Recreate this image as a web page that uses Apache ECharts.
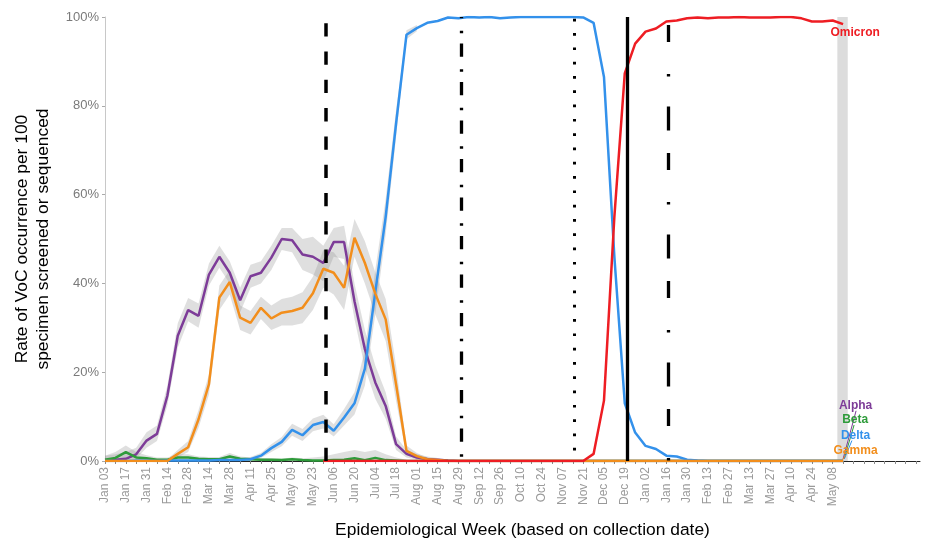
<!DOCTYPE html>
<html><head><meta charset="utf-8">
<script src="https://cdn.jsdelivr.net/npm/echarts@6/dist/echarts.min.js"></script>
<style>html,body{margin:0;padding:0;background:#fff}#c{width:925px;height:544px}</style>
</head><body><div id="c"></div>
<script>
// Weekly categories (epidemiological weeks, 2021-01-03 .. 2022-05-15)
const weekLabels = ["Jan 03","Jan 10","Jan 17","Jan 24","Jan 31","Feb 07","Feb 14","Feb 21","Feb 28","Mar 07",
 "Mar 14","Mar 21","Mar 28","Apr 04","Apr 11","Apr 18","Apr 25","May 02","May 09","May 16",
 "May 23","May 30","Jun 06","Jun 13","Jun 20","Jun 27","Jul 04","Jul 11","Jul 18","Jul 25",
 "Aug 01","Aug 08","Aug 15","Aug 22","Aug 29","Sep 05","Sep 12","Sep 19","Sep 26","Oct 03",
 "Oct 10","Oct 17","Oct 24","Oct 31","Nov 07","Nov 14","Nov 21","Nov 28","Dec 05","Dec 12",
 "Dec 19","Dec 26","Jan 02","Jan 09","Jan 16","Jan 23","Jan 30","Feb 06","Feb 13","Feb 20",
 "Feb 27","Mar 06","Mar 13","Mar 20","Mar 27","Apr 03","Apr 10","Apr 17","Apr 24","May 01",
 "May 08","May 15"];

const yTicks = [0, 20, 40, 60, 80, 100];

const alpha = [0.2,0.3,0.5,1.5,4.6,6.1,14.7,28.2,34,32.7,
 42,46,42.4,36.2,41.6,42.4,45.8,50,49.7,46.5,
 46,44.6,49.3,49.3,36,25.2,17.7,12.4,3.8,1.6,
 0.8,0.45,0.3,0.1,0,0,0,0,0,0,
 0,0,0,0,0,0,0,0,0,0,
 0,0,0,0,0,0,0,0,0,0,
 0,0,0,0,0,0,0,0,0,0,
 0,0];
const beta = [0.3,0.7,2.0,0.8,0.6,0.3,0.3,0.8,0.8,0.5,
 0.4,0.4,1.0,0.5,0.4,0.3,0.3,0.2,0.4,0.2,
 0.1,0.1,0.2,0.3,0.6,0.2,0.7,0.2,0.1,0,
 0,0,0,0,0,0,0,0,0,0,
 0,0,0,0,0,0,0,0,0,0,
 0,0,0,0,0,0,0,0,0,0,
 0,0,0,0,0,0,0,0,0,0,
 0,0];
const delta = [0,0,0,0.1,0.1,0,0.1,0.1,0.1,0.1,
 0.1,0.2,0.2,0.2,0.4,1.2,2.9,4.3,7.0,5.8,
 8.1,8.8,6.8,9.8,13.0,20.8,38,55,76,96,
 97.5,98.7,99.1,99.9,99.7,100,99.9,100,99.7,99.9,
 100,100,100,100,100,100,99.9,98.7,86.5,46,
 13,6.4,3.4,2.7,1.2,1.0,0.3,0.1,0,0,
 0,0,0,0,0,0,0,0,0,0,
 0,0];
const gamma = [0,0,0,0,0,0,0,1.6,3.1,9.4,
 17.3,36.8,40.3,32.3,31.1,34.5,32.1,33.4,33.8,34.5,
 37.8,43.3,42.4,39,50.3,44.6,37.7,31.9,17.3,2.3,
 1.1,0.4,0.2,0,0,0,0,0,0,0,
 0,0,0,0,0,0,0,0,0,0,
 0,0,0,0,0,0,0,0,0,0,
 0,0,0,0,0,0,0,0,0,0,
 0,0];
const omicron = [null,null,null,null,null,null,null,null,null,null,
 null,null,null,null,null,null,null,null,null,null,
 null,0,0,0,0,0,0,0,0,0,
 0,0,0,0,0,0,0,0,0,0,
 0,0,0,0,0,0,0,1.6,13.6,55,
 87.3,94,96.7,97.4,99,99.2,99.7,99.9,99.7,99.9,
 99.9,100,99.9,99.9,99.9,100,100,99.7,99.0,99.0,
 99.2,98.4];

// Confidence ribbons (lower / upper), starting at the given week index
const alphaBandStart = 0;
const alphaLow  = [0,0,0,0.5,3,4.5,12.5,25.5,31.5,30,39.5,43.5,40,33.5,39,40,43,47.5,47,43,42,40.5,46,45.5,32,21,14,9.5,2.5,0.8,0.3,0.1,0,0];
const alphaHigh = [1.2,1.5,2,3,6.5,8,17,31,36.7,35.5,44.5,48.5,45,39,44.2,45,48.5,52.5,52.5,50,50.5,48.5,52.5,53,40,29.5,21.5,15.5,5.5,2.5,1.5,1,0.7,0.3];
const gammaBandStart = 6;
const gammaLow  = [0,0.8,2,7.5,15,34,37.5,29.5,28.5,32,29.5,30.5,30.5,31,34,39,37.5,34,46,40,33,27,13.5,1.3,0.5,0.1,0];
const gammaHigh = [0.4,2.5,4.5,11.5,19.5,39.5,43,35,33.8,37,35,36.5,37,38,41.5,47.5,47,44,54.5,49.5,42.5,36.5,21.5,3.5,1.8,0.8,0.4];
const deltaBandStart = 12;
const deltaLow  = [0,0,0.1,0.7,2,3.3,5.7,4.5,6.7,7.3,5.5,8,10.5,17,33,51,73,95,96.8];
const deltaHigh = [0.5,0.6,0.9,1.8,3.8,5.4,8.4,7.2,9.6,10.4,8.3,11.7,15.5,25,43,59,79,97,98.2];
const betaBandStart = 0;
const betaLow  = [0,0,0.8,0.2,0,0,0,0.2,0.2,0,0,0,0.3,0,0,0,0,0,0,0,0,0,0,0,0,0,0,0,0,0];
const betaHigh = [1.2,2,3.5,2,1.3,0.8,0.8,1.5,1.5,1,0.9,0.9,1.8,1,0.8,0.7,0.6,0.5,0.8,0.6,0.8,1,1.5,2,2.5,2,2.5,1.5,0.8,0.3];

// Dates of the reference vertical lines (in fractional week index)
const eventLines = [21.2, 34.3, 45.1, 50.2, 54.2];

const names  = ["Alpha","Beta","Delta","Gamma","Omicron"];
const values = [alpha, beta, delta, gamma, omicron];
const colors = ["#7D3C98","#2E9B3A","#3391EB","#F28E1C","#EE1D23"];

const FONT = "'Liberation Sans', Arial, sans-serif";

function pairs(arr, start) { return arr.map((v, k) => [start + k, v]); }

const series = [];

// grey band over the last (incomplete) week
series.push({
  type: 'line', data: [], silent: true, z: 0,
  markArea: { silent: true, itemStyle: { color: '#dcdcdc', opacity: 1 },
    data: [[{ xAxis: 70.45, yAxis: 0 }, { xAxis: 71.45, yAxis: 100 }]] }
});

// confidence ribbons as polygons through the axes
const ribbons = [[alphaLow, alphaHigh, alphaBandStart],[gammaLow, gammaHigh, gammaBandStart],
                 [deltaLow, deltaHigh, deltaBandStart],[betaLow, betaHigh, betaBandStart]];
ribbons.forEach(r => {
  const [lo, hi, st] = r;
  const rows = lo.map((l, k) => [st + k, l, hi[k]]);
  series.push({
    type: 'custom', silent: true, z: 1,
    data: rows,
    encode: { x: 0, y: [1, 2] },
    renderItem: function (params, api) {
      if (params.dataIndex !== 0) return null;
      const top = rows.map(rw => api.coord([rw[0], rw[2]]));
      const bot = rows.slice().reverse().map(rw => api.coord([rw[0], rw[1]]));
      return { type: 'polygon', shape: { points: top.concat(bot) },
        style: { fill: 'rgba(150,150,150,0.3)', stroke: null } };
    }
  });
});

const labelPos = {
  Alpha:   { pt: [72.2, 12.5], lead: [[71.0, 0.45], [72.25, 11.3]] },
  Beta:    { pt: [72.16, 9.2], lead: [[71.1, 0.45], [72.06, 8.1]] },
  Delta:   { pt: [72.2, 5.8],  lead: [[71.12, 0.45], [71.85, 4.6]] },
  Gamma:   { pt: [72.2, 2.25], lead: [[70.97, 0.3], [71.2, 1.2]] },
  Omicron: { pt: [72.16, 96.4], lead: null }
};

names.forEach((n, i) => {
  const lp = labelPos[n];
  const s = {
    name: n, type: 'line', data: pairs(values[i], 0), symbol: 'none', z: 3,
    lineStyle: { color: colors[i], width: 2.5 }, itemStyle: { color: colors[i] },
    markPoint: { silent: true, symbol: 'rect', symbolSize: [1, 1], itemStyle: { color: 'rgba(0,0,0,0)' },
      label: { show: true, position: 'inside', formatter: n, color: colors[i], fontWeight: 'bold', fontSize: 12, fontFamily: FONT },
      data: [{ coord: lp.pt }] }
  };
  if (lp.lead) {
    s.markLine = { silent: true, symbol: ['none','none'], label: { show: false },
      lineStyle: { color: colors[i], width: 1, type: 'solid' },
      data: [[{ coord: lp.lead[0] }, { coord: lp.lead[1] }]] };
  }
  series.push(s);
});

const vStyles = [
  { top: 98.6, lineStyle: { width: 3.5, type: [13.3, 15], dashOffset: 0 } },
  { top: 100,  lineStyle: { width: 3.3, type: [13.3, 12.4, 2.5, 10.3], dashOffset: 12 } },
  { top: 99.6, lineStyle: { width: 3,   type: [2.7, 11.6] } },
  { top: 100,  lineStyle: { width: 3.3, type: 'solid' } },
  { top: 98.2, lineStyle: { width: 3.3, type: [17, 32, 2.5, 30, 24, 22.5] } }
];
series.push({
  type: 'line', data: [], z: 5, silent: true,
  markLine: { silent: true, symbol: ['none','none'], label: { show: false }, animation: false,
    data: eventLines.map((x, k) => [
      { coord: [x, vStyles[k].top], lineStyle: Object.assign({ color: '#000', cap: 'butt' }, vStyles[k].lineStyle) },
      { coord: [x, 0] }
    ]) }
});

const chart = echarts.init(document.getElementById('c'), null, { renderer: 'canvas' });
chart.setOption({
  animation: false,
  backgroundColor: '#fff',
  grid: { left: 105, right: 5, top: 17, bottom: 82, containLabel: false },
  xAxis: {
    type: 'value', min: 0, max: 78.4, interval: 1,
    name: 'Epidemiological Week (based on collection date)', nameLocation: 'middle', nameGap: 61,
    nameTextStyle: { fontSize: 17.4, color: '#000', fontFamily: FONT, padding: [0, 0, 0, 20] },
    axisLine: { show: true, lineStyle: { color: '#222', width: 1 } },
    axisTick: { show: true, length: 3, lineStyle: { color: '#888' } },
    axisLabel: { rotate: 90, margin: 6, fontSize: 12, color: '#9a9a9a', fontFamily: FONT,
      showMinLabel: true, showMaxLabel: false,
      formatter: v => (Number.isInteger(v) && v % 2 === 0 && v < weekLabels.length) ? weekLabels[v] : '' },
    splitLine: { show: false }
  },
  yAxis: {
    type: 'value', min: yTicks[0], max: yTicks[yTicks.length - 1], interval: 20,
    name: 'Rate of VoC occurrence per 100\nspecimen screened or sequenced', nameLocation: 'middle', nameGap: 51.5,
    nameTextStyle: { fontSize: 17.4, color: '#000', fontFamily: FONT, lineHeight: 21 },
    axisLine: { show: true, lineStyle: { color: '#c8c8c8', width: 1 } },
    axisTick: { show: true, length: 3, lineStyle: { color: '#aaa' } },
    axisLabel: { fontSize: 13, color: '#7a7a7a', fontFamily: FONT, margin: 6, formatter: '{value}%' },
    splitLine: { show: false }
  },
  series: series
});
</script></body></html>
